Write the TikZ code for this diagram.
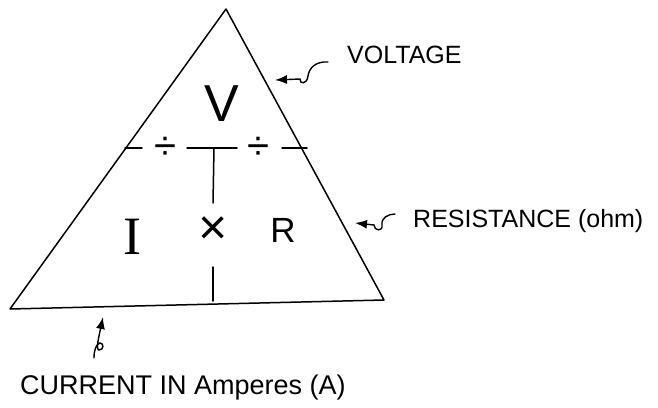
\documentclass[tikz,border=0pt]{standalone}
\usepackage{fontspec}
\setmainfont{Liberation Sans}
\newfontfamily\seriffont{Liberation Serif}
\usetikzlibrary{arrows.meta}
\begin{document}
\begin{tikzpicture}[x=1pt,y=-1pt,
  edge/.style={line width=1.5pt, line cap=round, line join=round},
  ptr/.style={line width=1.4pt, line cap=round, -{Latex[length=12pt,width=9pt]}},
  big/.style={inner sep=0pt},
  lbl/.style={font=\fontsize{25}{25}\selectfont, anchor=west, inner sep=0pt}]
\useasboundingbox[fill=white] (0,0) rectangle (658,407);
% triangle
\coordinate (A) at (226,9);
\coordinate (B) at (10,309);
\coordinate (C) at (384,300);
\draw[edge] (A) -- (C) -- (B) -- cycle;
% dashed divider
\coordinate (d1a) at (125,148); \coordinate (d1b) at (142,148);
\coordinate (d2a) at (187,148); \coordinate (d2b) at (237,148);
\coordinate (d3a) at (282,148); \coordinate (d3b) at (307,148);
\draw[edge] (d1a) -- (d1b) (d2a) -- (d2b) (d3a) -- (d3b);
\coordinate (t1) at (214,148); \coordinate (t2) at (213,203);
\draw[edge] (t1) -- (t2);
\coordinate (b1) at (213,267); \coordinate (b2) at (213,301);
\draw[edge] (b1) -- (b2);
% symbols
\node[big, font=\fontsize{52}{52}\selectfont] (V) at (222,104) {V};
\node[big, font=\seriffont\fontsize{54}{54}\selectfont] (I) at (132,237) {I};
\node[big, font=\fontsize{50}{50}\selectfont] (X) at (213,231) {×};
\node[big, font=\fontsize{35}{35}\selectfont] (R) at (283,230) {R};
\node[big, font=\fontsize{40}{40}\selectfont] (D1) at (165,148) {÷};
\node[big, font=\fontsize{40}{40}\selectfont] (D2) at (258,148) {÷};
% labels
\node[lbl] (vl) at (347,55) {VOLTAGE};
\node[lbl] (rl) at (413,221) {RESISTANCE (ohm)};
\node[lbl, font=\fontsize{27}{27}\selectfont] (cl) at (20,388) {CURRENT IN Amperes (A)};
% pointers
\coordinate (vs) at (328,62); \coordinate (vt) at (275,80);
\draw[ptr] (vs) .. controls (316,61) and (309,68) .. (308,76) .. controls (307,85) and (299,84) .. (300,79) -- (vt);
\coordinate (rs) at (395,214); \coordinate (rt) at (355,223);
\draw[ptr] (rs) .. controls (388,214) and (381,218) .. (382,225) .. controls (383,232) and (374,231) .. (374,225) -- (rt);
\coordinate (cs) at (94,358); \coordinate (ct) at (103,317);
\draw[ptr] (cs) .. controls (94,350) and (96,344) .. (100,343) .. controls (104,343) and (104,350) .. (99,350) .. controls (97,350) and (97,345) .. (99,336) -- (ct);
\end{tikzpicture}
\end{document}
